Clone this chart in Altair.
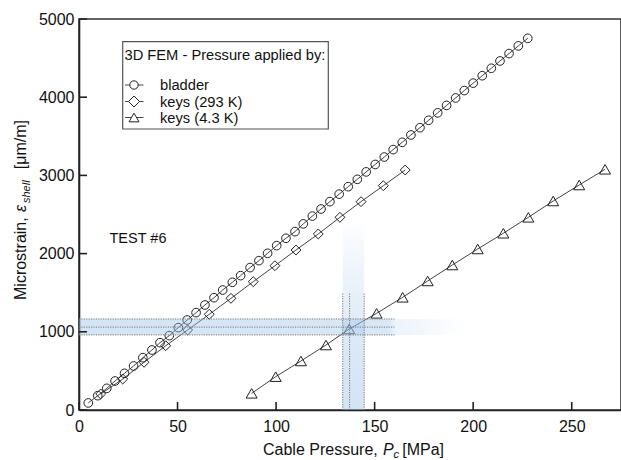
import altair as alt
import pandas as pd

# ---------------- data ----------------
series_names = ["bladder", "keys (293 K)", "keys (4.3 K)"]

bladder_p = [4.7, 9.5, 14.1, 18.3, 23.1, 27.7, 32.4, 37.0, 41.1, 45.8, 50.4, 54.9,
             59.4, 63.9, 68.5, 72.9, 77.8, 82.0, 86.8, 91.3, 95.7, 100.3, 105.0, 109.6,
             113.8, 118.4, 122.8, 127.3, 132.0, 136.6, 141.2, 145.7, 150.3, 154.9, 159.4,
             164.0, 168.4, 173.0, 177.4, 182.0, 186.5, 191.1, 195.5, 200.0, 204.6, 209.2,
             213.6, 218.2, 222.9, 227.7]
bladder_e = [90, 183, 277, 371, 469, 563, 669, 767, 861, 951, 1053, 1151,
             1245, 1343, 1436, 1534, 1633, 1718, 1821, 1910, 2004, 2102, 2196, 2281,
             2380, 2480, 2570, 2665, 2760, 2856, 2950, 3045, 3140, 3235, 3330,
             3423, 3517, 3610, 3705, 3800, 3895, 3990, 4085, 4180, 4275, 4370,
             4463, 4558, 4656, 4753]

keys293_p = [11.0, 22.2, 33.0, 44.0, 55.1, 66.1, 77.1, 88.4, 99.4, 110.1, 121.4,
             132.4, 143.1, 154.4, 165.5]
keys293_e = [205, 396, 610, 822, 1023, 1224, 1428, 1641, 1845, 2046, 2251,
             2464, 2664, 2868, 3069]

keys43_p = [87.6, 99.8, 112.6, 125.3, 137.1, 151.0, 164.2, 176.9, 189.4, 202.3,
            215.3, 228.0, 240.6, 253.8, 266.9]
keys43_e = [213, 426, 627, 831, 1036, 1236, 1441, 1650, 1854, 2059,
            2260, 2464, 2673, 2877, 3078]

x_ticks = [0, 50, 100, 150, 200, 250]
y_ticks = [0, 1000, 2000, 3000, 4000, 5000]

# highlighted bands
h_band_e = [960, 1164]          # strain range of the horizontal band
h_band_p_end = 196              # band fades out here
h_dot_e = [960, 1060, 1164]     # dotted horizontal lines
h_dot_p_end = 160
v_band_p = [133.8, 144.7]       # pressure range of the vertical band
v_band_e_top = 2450
v_dot_p = [133.8, 137.3, 144.7]
v_dot_e_top = 1490

annotation = "TEST #6"
legend_title = "3D FEM - Pressure applied by:"

# ---------------- frames ----------------
rows = []
for name, ps, es in [(series_names[0], bladder_p, bladder_e),
                     (series_names[1], keys293_p, keys293_e),
                     (series_names[2], keys43_p, keys43_e)]:
    for p, e in zip(ps, es):
        rows.append({"series": name, "p": p, "e": e})
df = pd.DataFrame(rows)

FONT = "Liberation Sans"
W, H = 542, 391
xs = alt.Scale(domain=[0, 275], nice=False, zero=False)
ys = alt.Scale(domain=[0, 5000], nice=False, zero=False)

x_axis = alt.Axis(values=x_ticks, title=None, grid=False, ticks=False, tickSize=0, format="d",
                  labelFont=FONT, labelFontSize=16, labelColor="#111", labelPadding=8,
                  labelFlush=False, domainColor="#222", domainWidth=1.6)
y_axis = alt.Axis(values=y_ticks, title=None, grid=False, ticks=False, tickSize=0, format="d",
                  labelFont=FONT, labelFontSize=16, labelColor="#111", labelPadding=5,
                  labelFlush=False, domainColor="#222", domainWidth=1.6)


def X(field):
    return alt.X(field, scale=xs, axis=x_axis, title=None)


def Y(field):
    return alt.Y(field, scale=ys, axis=y_axis, title=None)


lines = alt.Chart(df).mark_line(color="#444", strokeWidth=1).encode(
    x=X("p:Q"), y=Y("e:Q"), detail="series:N",
)

points = alt.Chart(df).mark_point(filled=False, stroke="#222", strokeWidth=1, opacity=1).encode(
    x=X("p:Q"), y=Y("e:Q"),
    shape=alt.Shape("series:N", scale=alt.Scale(domain=series_names,
                                                 range=["circle", "diamond", "triangle-up"]),
                    legend=None),
    size=alt.Size("series:N", scale=alt.Scale(domain=series_names, range=[75, 121, 100]),
                  legend=None),
)

blue = "150,190,230"
hband_df = pd.DataFrame({"p1": [0], "p2": [h_band_p_end], "e1": [h_band_e[0]], "e2": [h_band_e[1]]})
hband = alt.Chart(hband_df).mark_rect(fill={
    "gradient": "linear", "x1": 0, "y1": 0, "x2": 1, "y2": 0,
    "stops": [
        {"offset": 0, "color": f"rgba({blue},0.42)"},
        {"offset": 0.80, "color": f"rgba({blue},0.36)"},
        {"offset": 0.82, "color": f"rgba({blue},0.18)"},
        {"offset": 1, "color": f"rgba({blue},0.0)"},
    ]}).encode(x=X("p1:Q"), x2="p2:Q", y=Y("e1:Q"), y2="e2:Q")

vband_df = pd.DataFrame({"p1": [v_band_p[0]], "p2": [v_band_p[1]], "e1": [0], "e2": [v_band_e_top]})
vband = alt.Chart(vband_df).mark_rect(fill={
    "gradient": "linear", "x1": 0, "y1": 0, "x2": 0, "y2": 1,
    "stops": [
        {"offset": 0, "color": f"rgba({blue},0.0)"},
        {"offset": 0.3, "color": f"rgba({blue},0.18)"},
        {"offset": 0.6, "color": f"rgba({blue},0.32)"},
        {"offset": 1, "color": f"rgba({blue},0.42)"},
    ]}).encode(x=X("p1:Q"), x2="p2:Q", y=Y("e1:Q"), y2="e2:Q")

hdot_df = pd.DataFrame({"e": h_dot_e, "p1": [0] * len(h_dot_e), "p2": [h_dot_p_end] * len(h_dot_e)})
hdots = alt.Chart(hdot_df).mark_rule(color="#777", strokeWidth=1, strokeDash=[1.2, 1.2]).encode(
    x=X("p1:Q"), x2="p2:Q", y=Y("e:Q"))
vdot_df = pd.DataFrame({"p": v_dot_p, "e1": [0] * len(v_dot_p), "e2": [v_dot_e_top] * len(v_dot_p)})
vdots = alt.Chart(vdot_df).mark_rule(color="#777", strokeWidth=1, strokeDash=[1.2, 1.2]).encode(
    x=X("p:Q"), y=Y("e1:Q"), y2="e2:Q")

# inward ticks
xt = alt.Chart(pd.DataFrame({"t": x_ticks})).mark_rule(color="#222", strokeWidth=1.6).encode(
    x=X("t:Q"), y=alt.value(H), y2=alt.value(H - 8))
yt = alt.Chart(pd.DataFrame({"t": y_ticks})).mark_rule(color="#222", strokeWidth=1.6).encode(
    y=Y("t:Q"), x=alt.value(0), x2=alt.value(8))

# annotation
ann = alt.Chart(pd.DataFrame({"t": [annotation]})).mark_text(
    font=FONT, fontSize=14.5, color="#111", align="left", baseline="alphabetic").encode(
    text="t:N", x=alt.value(30.5), y=alt.value(223.5))

# manual legend
leg_layers = []
leg_box = alt.Chart(pd.DataFrame({"a": [0]})).mark_rect(
    fill="white", stroke="#555", strokeWidth=1.2).encode(
    x=alt.value(43.7), x2=alt.value(249.3), y=alt.value(22.7), y2=alt.value(110))
leg_layers.append(leg_box)
leg_layers.append(alt.Chart(pd.DataFrame({"t": [legend_title]})).mark_text(
    font=FONT, fontSize=14.7, color="#111", align="left", baseline="alphabetic").encode(
    text="t:N", x=alt.value(45.5), y=alt.value(40.5)))
shapes = ["circle", "diamond", "triangle-up"]
sizes = [70, 121, 100]
base_y = [71, 87.5, 103.5]
for name, shp, sz, by in zip(series_names, shapes, sizes, base_y):
    d = pd.DataFrame({"t": [name]})
    cy = by - 5
    leg_layers.append(alt.Chart(d).mark_rule(color="#444", strokeWidth=1).encode(
        x=alt.value(46), x2=alt.value(64.5), y=alt.value(cy)))
    leg_layers.append(alt.Chart(d).mark_point(
        shape=shp, size=sz, filled=False, stroke="#222", strokeWidth=1, fill="white", opacity=1).encode(
        x=alt.value(55), y=alt.value(cy)))
    leg_layers.append(alt.Chart(d).mark_text(
        font=FONT, fontSize=14.7, color="#111", align="left", baseline="alphabetic").encode(
        text="t:N", x=alt.value(81), y=alt.value(by)))


# axis titles (mixed formatting built from pieces)
def txt(s, x, y, size=16, italic=False, align="left", angle=0):
    kw = dict(font=FONT, fontSize=size, color="#111", align=align, baseline="alphabetic")
    if italic:
        kw["fontStyle"] = "italic"
    if angle:
        kw["angle"] = angle
    return alt.Chart(pd.DataFrame({"t": [s]})).mark_text(**kw).encode(
        text="t:N", x=alt.value(x), y=alt.value(y))


title_layers = [
    txt("Cable Pressure, ", 184, 435.5),
    txt("P", 304, 435.5, italic=True),
    txt("c", 314.5, 439, size=11, italic=True),
    txt("[MPa]", 365, 435.5, align="right"),
    txt("Microstrain, ", -53.5, 281, angle=270),
    txt("\u03b5", -53.5, 193, italic=True, angle=270),
    txt("shell", -49.5, 184, size=11, italic=True, angle=270),
    txt("[\u03bcm/m]", -53.5, 101, align="right", angle=270),
]

chart = alt.layer(lines, points, hband, vband, hdots, vdots, xt, yt, ann,
                  *leg_layers, *title_layers).properties(
    width=W, height=H,
    autosize=alt.AutoSizeParams(type="none"),
    padding={"left": 79, "top": 19, "right": 0, "bottom": 50},
    background="white",
).configure_view(stroke="#333", strokeWidth=1.6)

chart.save("out.html", embed_options={"renderer": "svg", "actions": False})
